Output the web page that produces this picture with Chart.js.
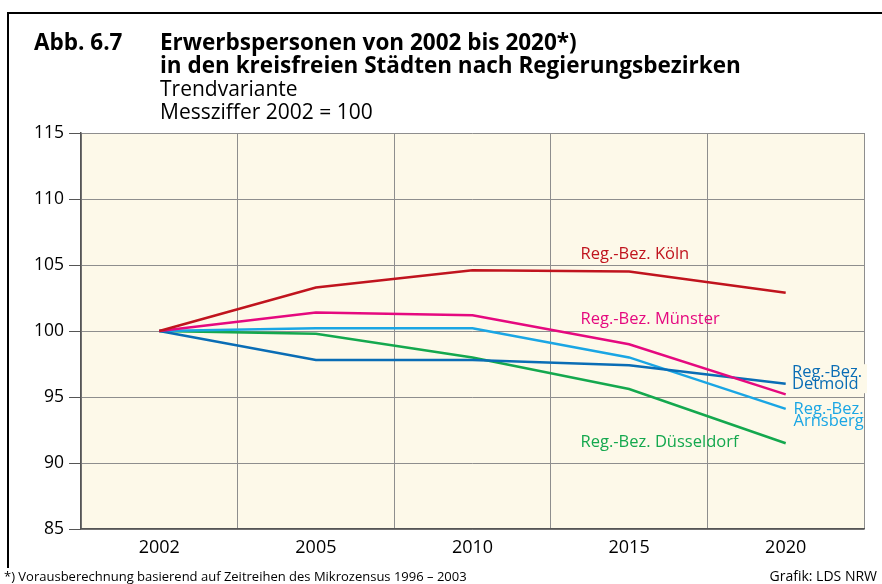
<!DOCTYPE html>
<html lang="de">
<head>
<meta charset="utf-8">
<title>Erwerbspersonen 2002 bis 2020</title>
<script src="https://cdn.jsdelivr.net/npm/chart.js@4.4.1/dist/chart.umd.min.js"></script>
<style>
  html, body { margin: 0; padding: 0; background: #ffffff; }
  #wrap { width: 882px; height: 584px; position: relative; }
</style>
</head>
<body>
<div id="wrap"><canvas id="chart" width="882" height="584"></canvas></div>
<script>
// Jahre (Kategorien)
const years = ['2002', '2005', '2010', '2015', '2020'];

// Messziffer 2002 = 100, Trendvariante
const koeln       = [100, 103.3, 104.6, 104.5, 102.9];
const muenster    = [100, 101.4, 101.2, 99.0, 95.2];
const detmold     = [100, 97.8, 97.8, 97.4, 96.0];
const arnsberg    = [100, 100.2, 100.2, 98.0, 94.1];
const duesseldorf = [100, 99.8, 98.0, 95.6, 91.5];

// Achsenbereich
const yMin = 85, yMax = 115, yStep = 5;

const FONT = '"Open Sans", "Noto Sans", sans-serif';

const COLORS = {
  koeln: '#c0141e',
  muenster: '#e5097f',
  detmold: '#0a6db5',
  arnsberg: '#1aa6e4',
  duesseldorf: '#14a84e'
};
const PLOT_BG = '#fdf9e9';

function series(label, data, color) {
  return {
    label, data,
    borderColor: color,
    backgroundColor: color,
    borderWidth: 2.5,
    pointRadius: 0,
    pointHoverRadius: 0,
    tension: 0,
    fill: false
  };
}

// Beschriftungen an den Linien (x als Kategorie-Index, y als Messziffer)
const lineLabels = [
  { lines: ['Reg.-Bez. Köln'], color: COLORS.koeln, x: 2.69, y: 105.45 },
  { lines: ['Reg.-Bez. Münster'], color: COLORS.muenster, x: 2.69, y: 100.5 },
  { lines: ['Reg.-Bez. Düsseldorf'], color: COLORS.duesseldorf, x: 2.69, y: 91.25 },
  { lines: ['Reg.-Bez.', 'Detmold'], color: COLORS.detmold, x: 4.04, y: 96.5, box: true },
  { lines: ['Reg.-Bez.', 'Arnsberg'], color: COLORS.arnsberg, x: 4.05, y: 93.7 }
];

const framePlugin = {
  id: 'frame',
  beforeDraw(chart) {
    const { ctx, chartArea: a } = chart;
    ctx.save();
    ctx.fillStyle = '#ffffff';
    ctx.fillRect(0, 0, chart.width, chart.height);
    ctx.fillStyle = PLOT_BG;
    ctx.fillRect(a.left, a.top, a.right - a.left, a.bottom - a.top);
    // schwarzer Rahmen oben und links
    ctx.fillStyle = '#000000';
    ctx.fillRect(8, 12, chart.width - 8, 2);
    ctx.fillRect(7, 12, 2, 556);
    ctx.restore();
  },
  afterDraw(chart) {
    const { ctx } = chart;
    ctx.save();
    ctx.fillStyle = '#000000';
    ctx.textBaseline = 'alphabetic';
    ctx.textAlign = 'left';
    ctx.font = 'bold 22.5px ' + FONT;
    ctx.fillText('Abb. 6.7', 34, 50);
    ctx.fillText('Erwerbspersonen von 2002 bis 2020*)', 160, 50);
    ctx.fillText('in den kreisfreien Städten nach Regierungsbezirken', 160, 73);
    ctx.font = '21px ' + FONT;
    ctx.fillText('Trendvariante', 160, 96);
    ctx.fillText('Messziffer 2002 = 100', 160, 119);
    // Fußnote und Quelle
    ctx.font = '13px ' + FONT;
    ctx.fillText('*) Vorausberechnung basierend auf Zeitreihen des Mikrozensus 1996 – 2003', 4, 581);
    ctx.textAlign = 'right';
    ctx.font = '14px ' + FONT;
    ctx.fillText('Grafik: LDS NRW', 877, 581);
    ctx.restore();
  },
  afterDatasetsDraw(chart) {
    const { ctx, scales } = chart;
    ctx.save();
    ctx.font = '16.5px ' + FONT;
    ctx.textAlign = 'left';
    ctx.textBaseline = 'alphabetic';
    lineLabels.forEach(l => {
      const idx = Math.floor(l.x);
      const p0 = scales.x.getPixelForValue(idx);
      const p1 = scales.x.getPixelForValue(Math.min(idx + 1, years.length - 1));
      const step = idx + 1 < years.length ? (p1 - p0) : (p0 - scales.x.getPixelForValue(idx - 1));
      const px = p0 + (l.x - idx) * step;
      const py = scales.y.getPixelForValue(l.y);
      const lh = 12;
      if (l.box) {
        const w = Math.max(...l.lines.map(t => ctx.measureText(t).width));
        ctx.fillStyle = PLOT_BG;
        ctx.fillRect(px - 1, py - 13, w + 6, lh * (l.lines.length - 1) + 17);
      }
      ctx.fillStyle = l.color;
      l.lines.forEach((t, i) => ctx.fillText(t, px, py + i * lh));
    });
    ctx.restore();
  }
};

new Chart(document.getElementById('chart'), {
  type: 'line',
  data: {
    labels: years,
    datasets: [
      series('Reg.-Bez. Köln', koeln, COLORS.koeln),
      series('Reg.-Bez. Münster', muenster, COLORS.muenster),
      series('Reg.-Bez. Detmold', detmold, COLORS.detmold),
      series('Reg.-Bez. Arnsberg', arnsberg, COLORS.arnsberg),
      series('Reg.-Bez. Düsseldorf', duesseldorf, COLORS.duesseldorf)
    ]
  },
  options: {
    responsive: false,
    animation: false,
    devicePixelRatio: 1,
    layout: { padding: { left: 0, top: 133, right: 18, bottom: 0 } },
    plugins: {
      legend: { display: false },
      title: { display: false },
      tooltip: { enabled: false }
    },
    scales: {
      x: {
        offset: true,
        afterFit(scale) { scale.height = 55; },
        grid: { offset: true, color: '#8e8e8e', lineWidth: 1, drawTicks: false },
        border: { color: '#555555', width: 1.5 },
        ticks: { color: '#000000', font: { family: FONT, size: 18 }, padding: 8, maxRotation: 0 }
      },
      y: {
        min: yMin, max: yMax,
        afterFit(scale) { scale.width = 81; },
        grid: { color: '#8e8e8e', lineWidth: 1, tickLength: 12, tickColor: '#555555' },
        border: { color: '#555555', width: 1.5 },
        ticks: { stepSize: yStep, color: '#000000', font: { family: FONT, size: 17.5 }, padding: 5 }
      }
    }
  },
  plugins: [framePlugin]
});
</script>
</body>
</html>
